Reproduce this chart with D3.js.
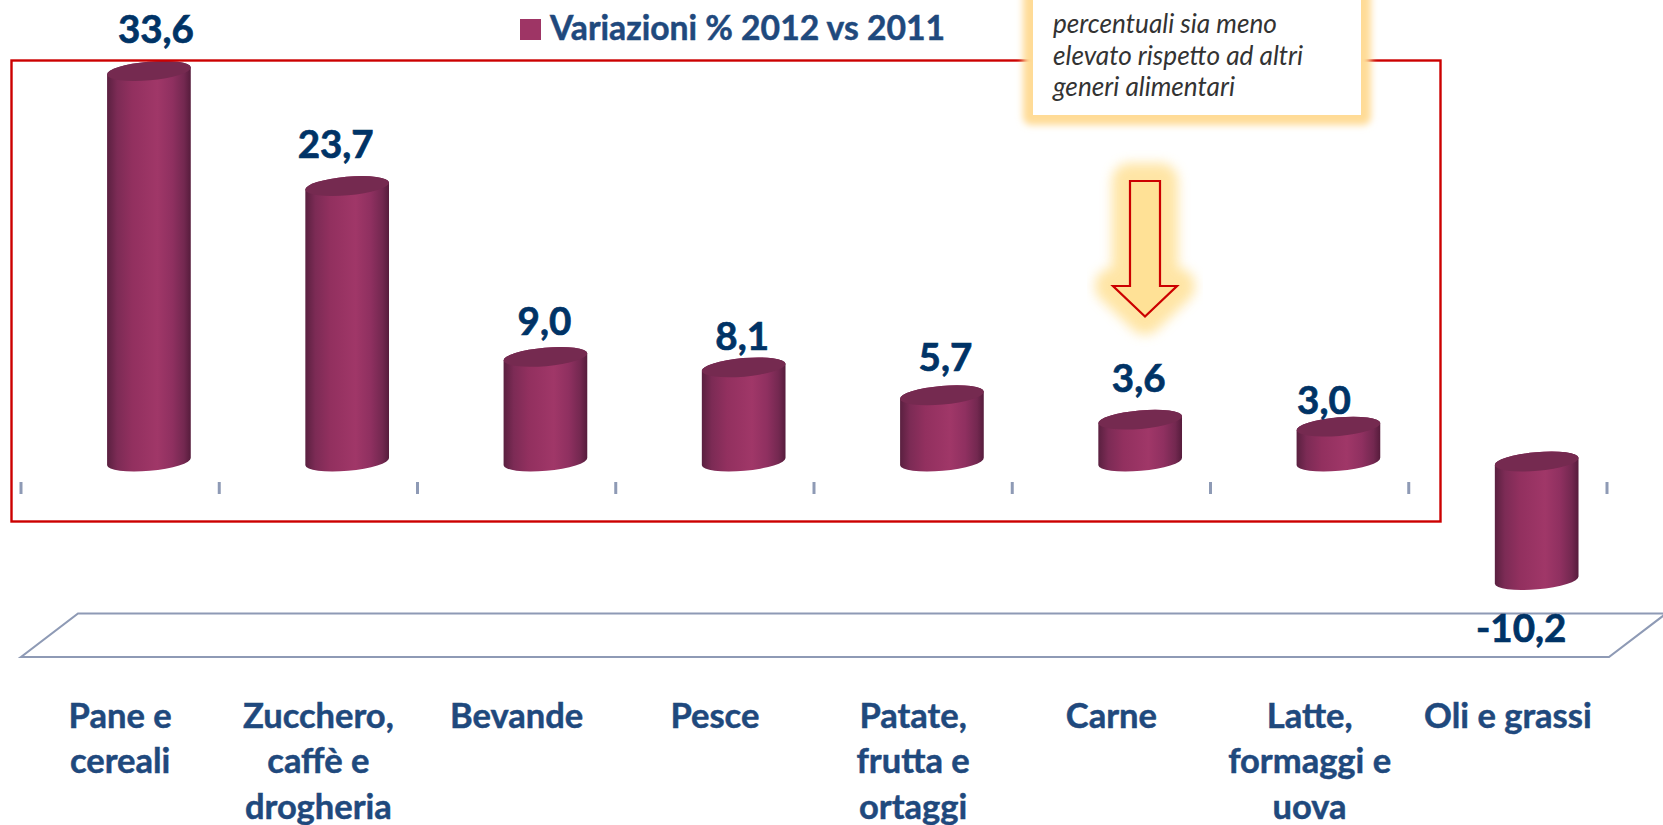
<!DOCTYPE html>
<html lang="it"><head><meta charset="utf-8">
<script src="https://cdn.jsdelivr.net/npm/d3@7/dist/d3.min.js"></script>
<style>
html,body{margin:0;padding:0;background:#fff;overflow:hidden}
svg{display:block}
text{font-family:Lato,"Open Sans",sans-serif}
</style></head><body>
<svg id="chart" width="1663" height="825" viewBox="0 0 1663 825"></svg>
<script>
const categories = [
  ["Pane e","cereali"],
  ["Zucchero,","caffè e","drogheria"],
  ["Bevande"],
  ["Pesce"],
  ["Patate,","frutta e","ortaggi"],
  ["Carne"],
  ["Latte,","formaggi e","uova"],
  ["Oli e grassi"]
];
const values = [33.6, 23.7, 9.0, 8.1, 5.7, 3.6, 3.0, -10.2];
const seriesName = "Variazioni % 2012 vs 2011";
const calloutLines = ["percentuali sia meno","elevato rispetto ad altri","generi alimentari"];

// layout only
const labelNudgeX = [7.5,-11,-0.5,-1,4,-1,-14,-15];
const labelNudgeY = [-28.5,-28.5,-21.5,-17.5,-24,-27.5,-13,61.5];
const W=1663,H=825,RX=42,RY=9.3,TILT=5*Math.PI/180,DEPTH=28.8;
const C={bar:"#9e3565",cap:"#752a50",navy:"#003366",cat:"#1f497d",red:"#cc0000",axis:"#8e9ab5",glow:"#ffdb96",arrow:"#ffe196"};

const svg=d3.select("#chart");
const names=categories.map(c=>c.join(" "));
const x=d3.scaleBand().domain(names).range([21,1607]).padding(0);
const y=d3.scaleLinear().domain([0,33.6]).range([461.5,71]);

const defs=svg.append("defs");
const grad=defs.append("linearGradient").attr("id","cyl").attr("x1",0).attr("x2",1).attr("y1",0).attr("y2",0);
[[0,"#5a2040"],[.12,"#7c2b55"],[.3,"#92305f"],[.6,"#a03768"],[.78,"#8f3060"],[.92,"#732850"],[1,"#561c3c"]]
  .forEach(([o,c])=>grad.append("stop").attr("offset",o).attr("stop-color",c));
const blur=(id,s)=>defs.append("filter").attr("id",id)
  .attr("x","-40%").attr("y","-40%").attr("width","180%").attr("height","180%")
  .append("feGaussianBlur").attr("stdDeviation",s);
blur("glow",3.5);
blur("glowArrow",6);

// floor
const floor=[[21,657],[78,613.5],[1666,613.5],[1609,657]];
svg.append("path").attr("d",d3.line()(floor)+"Z").attr("fill","none").attr("stroke",C.axis).attr("stroke-width",2.2);

// ticks at band edges
svg.append("g").selectAll("line").data(d3.range(names.length+1)).join("line")
  .attr("x1",i=>x.range()[0]+i*x.bandwidth()).attr("x2",i=>x.range()[0]+i*x.bandwidth())
  .attr("y1",482).attr("y2",494).attr("stroke",C.axis).attr("stroke-width",3);

// cylinders
const dx=RX*Math.cos(TILT), dy=RX*Math.sin(TILT);
const cx=i=>x(names[i])+x.bandwidth()/2+DEPTH;
const bars=svg.append("g").selectAll("g").data(values).join("g");
bars.append("path").attr("fill","url(#cyl)").attr("d",(v,i)=>{
  const a=Math.min(y(v),y(0)), b=Math.max(y(v),y(0)), c=cx(i);
  return `M${c-dx},${a+dy} L${c-dx},${b+dy} A${RX},${RY} -5 0 0 ${c+dx},${b-dy} L${c+dx},${a-dy} A${RX},${RY} -5 0 0 ${c-dx},${a+dy} Z`;
});
bars.append("ellipse").attr("fill",C.cap).attr("rx",RX).attr("ry",RY)
  .attr("transform",(v,i)=>`translate(${cx(i)},${Math.min(y(v),y(0))}) rotate(-5)`);

// red frame
svg.append("rect").attr("x",11.5).attr("y",60.5).attr("width",1429).attr("height",461)
  .attr("fill","none").attr("stroke",C.red).attr("stroke-width",2.4);

// value labels
svg.append("g").selectAll("text").data(values).join("text")
  .attr("x",(v,i)=>cx(i)-0.5+labelNudgeX[i]).attr("y",(v,i)=>y(v)+labelNudgeY[i])
  .attr("text-anchor","middle").attr("font-size",38.5).attr("font-weight",700).attr("fill",C.navy)
  .attr("stroke",C.navy).attr("stroke-width",.7)
  .text(v=>v.toFixed(1).replace(".",","));

// category labels
const cats=svg.append("g").selectAll("text").data(categories).join("text")
  .attr("text-anchor","middle").attr("font-size",34.5).attr("font-weight",700).attr("fill",C.cat)
  .attr("stroke",C.cat).attr("stroke-width",.5);
cats.selectAll("tspan").data((d,i)=>d.map((t,j)=>({t,j,i}))).join("tspan")
  .attr("x",d=>x(names[d.i])+x.bandwidth()/2).attr("y",d=>727.5+d.j*45.8).text(d=>d.t);

// legend
svg.append("rect").attr("x",520).attr("y",19).attr("width",21).attr("height",21).attr("fill",C.bar);
svg.append("text").attr("x",550).attr("y",39.5).attr("font-size",33.7).attr("font-weight",700).attr("fill",C.cat)
  .attr("stroke",C.cat).attr("stroke-width",.5).text(seriesName);

// callout
svg.append("rect").attr("x",1023).attr("y",-20).attr("width",348).attr("height",145).attr("rx",8)
  .attr("fill",C.glow).attr("filter","url(#glow)");
svg.append("rect").attr("x",1033).attr("y",-5).attr("width",328).attr("height",120).attr("fill","#fff");
svg.append("g").selectAll("text").data(calloutLines).join("text")
  .attr("x",1053).attr("y",(d,i)=>33+i*31.6).attr("font-size",26.2).attr("font-style","italic").attr("fill","#333").text(d=>d);

// arrow
const arrow=[[1130,181],[1160,181],[1160,286],[1177,286],[1145,316.5],[1113,286],[1130,286]];
const arrowD=d3.line()(arrow)+"Z";
svg.append("path").attr("d",arrowD).attr("fill",C.arrow).attr("stroke",C.arrow).attr("stroke-width",36)
  .attr("stroke-linejoin","round").attr("filter","url(#glowArrow)").attr("opacity",.85);
svg.append("path").attr("d",arrowD).attr("fill",C.arrow).attr("stroke",C.red).attr("stroke-width",2.2);
</script></body></html>
